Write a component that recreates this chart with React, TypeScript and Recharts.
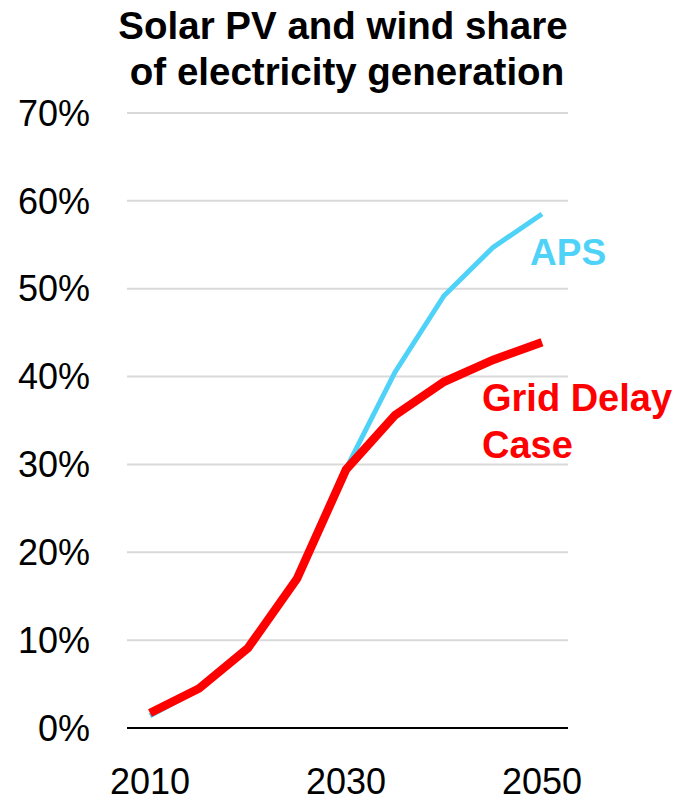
import { LineChart, Line, XAxis, YAxis, CartesianGrid } from "recharts"

const years = [2010, 2015, 2020, 2025, 2030, 2035, 2040, 2045, 2050]
const aps = [1.4, 4.4, 9.0, 17.1, 29.5, 40.5, 49.2, 54.7, 58.5]
const gridDelay = [1.7, 4.5, 9.1, 17.0, 29.4, 35.6, 39.4, 41.9, 43.9]
const xTicks = [2010, 2030, 2050]
const yTicks = [0, 10, 20, 30, 40, 50, 60, 70]

const data = years.map((year, i) => ({ year, APS: aps[i], Grid: gridDelay[i] }))

const FONT = '"Liberation Sans", Arial, sans-serif'
const CYAN = "#4fd2f7"
const RED = "#ff0000"

export default function App() {
  return (
    <div style={{ position: "absolute", left: 0, top: 0, width: 676, height: 800, background: "#fff", fontFamily: FONT }}>
      <LineChart width={676} height={800} data={data} margin={{ top: 113, right: 108, left: 0, bottom: 0 }}>
        <CartesianGrid vertical={false} stroke="#d9d9d9" strokeWidth={2} />
        <XAxis
          dataKey="year"
          type="number"
          domain={[2010, 2050]}
          ticks={xTicks}
          padding={{ left: 23, right: 26 }}
          height={72}
          tickLine={false}
          tickSize={0}
          tickMargin={40}
          axisLine={{ stroke: "#000", strokeWidth: 2 }}
          tick={{ fill: "#000", fontSize: 36, fontFamily: FONT }}
        />
        <YAxis
          domain={[0, 70]}
          ticks={yTicks}
          width={127}
          axisLine={false}
          tickLine={false}
          tickSize={0}
          tickMargin={37}
          tickFormatter={(v) => `${v}%`}
          tick={{ fill: "#000", fontSize: 36, fontFamily: FONT }}
        />
        <Line dataKey="APS" stroke={CYAN} strokeWidth={5} dot={false} isAnimationActive={false} />
        <Line dataKey="Grid" stroke={RED} strokeWidth={8.5} dot={false} isAnimationActive={false} />
      </LineChart>
      <svg width={676} height={800} style={{ position: "absolute", left: 0, top: 0, pointerEvents: "none" }}>
        <g fontFamily={FONT} fontWeight="bold">
          <text x={343} y={39} fontSize={38.5} textAnchor="middle" fill="#000">Solar PV and wind share</text>
          <text x={347} y={85} fontSize={38.5} textAnchor="middle" fill="#000">of electricity generation</text>
          <text x={530} y={265} fontSize={37} fill={CYAN}>APS</text>
          <text x={482} y={411} fontSize={38} fill={RED}>Grid Delay</text>
          <text x={482} y={458} fontSize={38} fill={RED}>Case</text>
        </g>
      </svg>
    </div>
  )
}
